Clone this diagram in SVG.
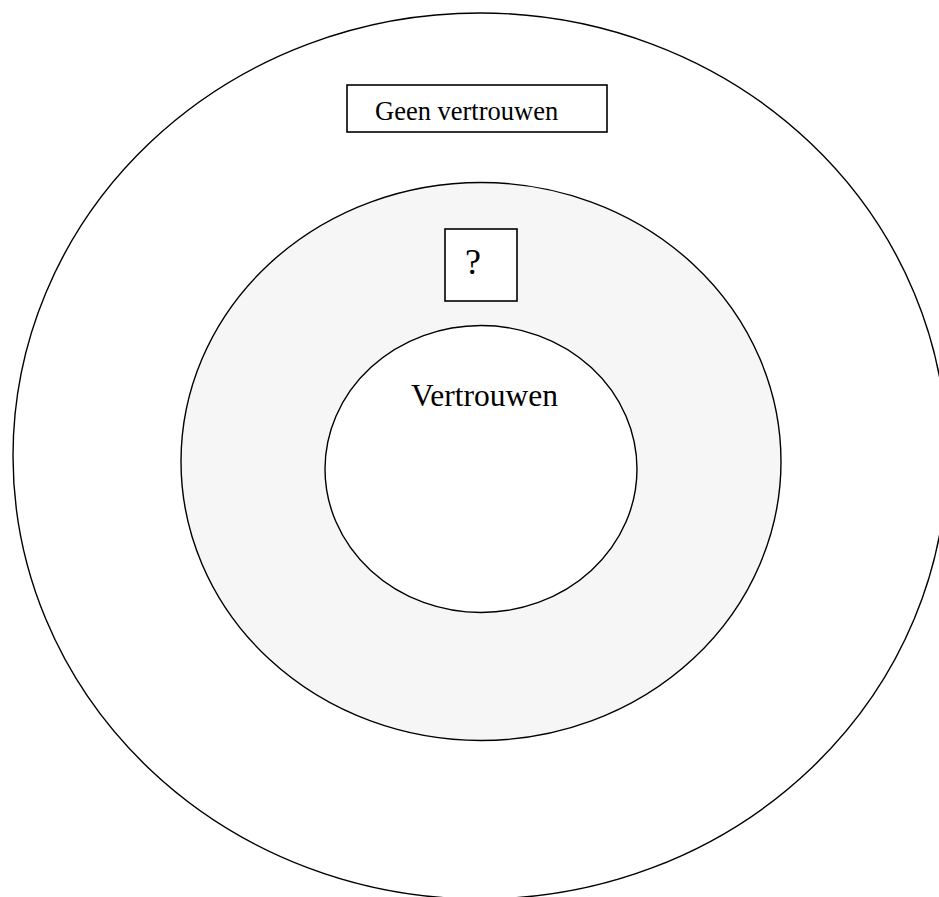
<svg xmlns="http://www.w3.org/2000/svg" width="939" height="897" viewBox="0 0 939 897">
<style>
.ring{stroke:#000;stroke-width:1.4}
.box{fill:#fff;stroke:#000;stroke-width:1.6}
.t{font-family:"Liberation Serif","Times New Roman",serif;fill:#000}
</style>
<rect width="939" height="897" fill="#fff"/>
<g id="outer">
<ellipse class="ring" cx="480" cy="456" rx="467" ry="443" fill="#fff"/>
</g>
<g id="middle">
<ellipse class="ring" cx="481" cy="461.5" rx="300" ry="279" fill="#f6f6f6"/>
</g>
<g id="inner">
<ellipse class="ring" cx="481" cy="469" rx="156" ry="143.5" fill="#fff"/>
<text class="t" x="411" y="406" font-size="31.5">Vertrouwen</text>
</g>
<g id="geen">
<rect class="box" x="347" y="85" width="260" height="47"/>
<text class="t" x="375" y="120" font-size="26.5">Geen vertrouwen</text>
</g>
<g id="vraag">
<rect class="box" x="445" y="229" width="72" height="72"/>
<text class="t" x="465" y="274" font-size="36">?</text>
</g>
<g id="connectors"></g>
</svg>
